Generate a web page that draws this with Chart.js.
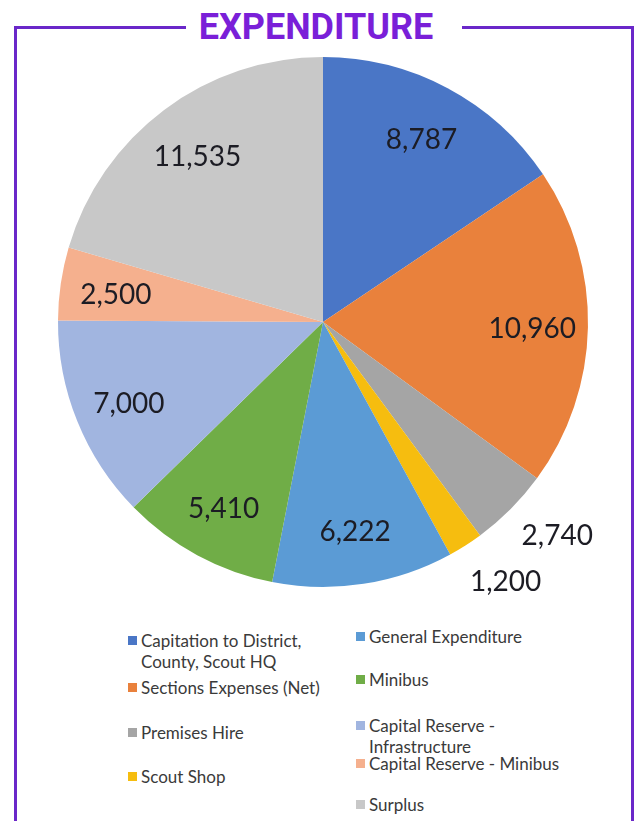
<!DOCTYPE html>
<html>
<head>
<meta charset="utf-8">
<script src="https://cdn.jsdelivr.net/npm/chart.js@4"></script>
<style>
  html, body { margin: 0; padding: 0; background: #fff; }
  #page { position: relative; width: 638px; height: 821px; overflow: hidden; font-family: Lato, "Liberation Sans", sans-serif; }
  .frame { position: absolute; background: #6a27c9; }
  #title { position: absolute; left: 0; width: 632px; top: 6px; text-align: center; font-family: Roboto, sans-serif; font-weight: 700; font-size: 36px; color: #7a1fd8; }
  #chartBox { position: absolute; left: 0; top: 40px; width: 638px; height: 570px; }
  .legendItem { position: absolute; font-size: 17px; line-height: 21px; color: #3a3a3a; }
  .legendItem span.sw { position: absolute; left: -13px; top: 6px; width: 9px; height: 9px; }
</style>
</head>
<body>
<div id="page">
  <div class="frame" style="left:14px; top:26px; width:3px; height:800px;"></div>
  <div class="frame" style="left:631px; top:26px; width:3px; height:800px;"></div>
  <div class="frame" style="left:14px; top:26px; width:172px; height:3px;"></div>
  <div class="frame" style="left:462px; top:26px; width:172px; height:3px;"></div>
  <div id="title">EXPENDITURE</div>
  <div id="chartBox"><canvas id="chartExpenditure"></canvas></div>
  <div id="legend"></div>
</div>
<script>
const categories = [
  'Capitation to District, County, Scout HQ',
  'Sections Expenses (Net)',
  'Premises Hire',
  'Scout Shop',
  'General Expenditure',
  'Minibus',
  'Capital Reserve - Infrastructure',
  'Capital Reserve - Minibus',
  'Surplus'
];
const amounts = [8787, 10960, 2740, 1200, 6222, 5410, 7000, 2500, 11535];
const sliceColours = ['#4a76c6', '#e9813c', '#a5a5a5', '#f6bd0f', '#5b9bd5', '#70ad47', '#a1b5e0', '#f5b08e', '#c8c8c8'];
const labelOutside = [false, false, true, true, false, false, false, false, false];

// legend layout (left, top, width) - two columns like the original
const legendLayout = [
  [141, 630, 180], [141, 677, 220], [141, 722, 200], [141, 766, 200],
  [369, 626, 230], [369, 669, 220], [369, 715, 160], [369, 753, 240], [369, 794, 220]
];

function legendBuild() {
  let legend = document.getElementById('legend');
  for (let i = 0; i < categories.length; i += 1) {
    let item = document.createElement('div');
    item.className = 'legendItem';
    item.style.left = legendLayout[i][0] + 'px';
    item.style.top = legendLayout[i][1] + 'px';
    item.style.width = legendLayout[i][2] + 'px';
    item.innerHTML = '<span class="sw" style="background:' + sliceColours[i] + '"></span>' + categories[i];
    legend.appendChild(item);
  }
}

const valueLabels = {
  id: 'valueLabels',
  afterDatasetsDraw(chart) {
    const ctx = chart.ctx;
    const meta = chart.getDatasetMeta(0);
    ctx.save();
    ctx.font = '28px Lato, "Liberation Sans", sans-serif';
    ctx.fillStyle = '#1c1c24';
    ctx.textAlign = 'center';
    ctx.textBaseline = 'middle';
    meta.data.forEach((arc, i) => {
      let mid = (arc.startAngle + arc.endAngle) / 2;
      let r = labelOutside[i] ? arc.outerRadius * 1.19 : arc.outerRadius * 0.79;
      if (labelOutside[i]) { mid -= 0.05; }
      let x = arc.x + Math.cos(mid) * r;
      let y = arc.y + Math.sin(mid) * r + 3;
      ctx.fillText(amounts[i].toLocaleString('en-GB'), x, y);
    });
    ctx.restore();
  }
};

const chartExpenditure = new Chart(document.getElementById('chartExpenditure'), {
  type: 'pie',
  data: {
    labels: categories,
    datasets: [{
      data: amounts,
      backgroundColor: sliceColours,
      borderWidth: 0
    }]
  },
  options: {
    responsive: true,
    maintainAspectRatio: false,
    animation: false,
    layout: { padding: { left: 58, right: 50, top: 17, bottom: 23 } },
    plugins: {
      legend: { display: false },
      tooltip: { enabled: false }
    }
  },
  plugins: [valueLabels]
});
legendBuild();
</script>
</body>
</html>
